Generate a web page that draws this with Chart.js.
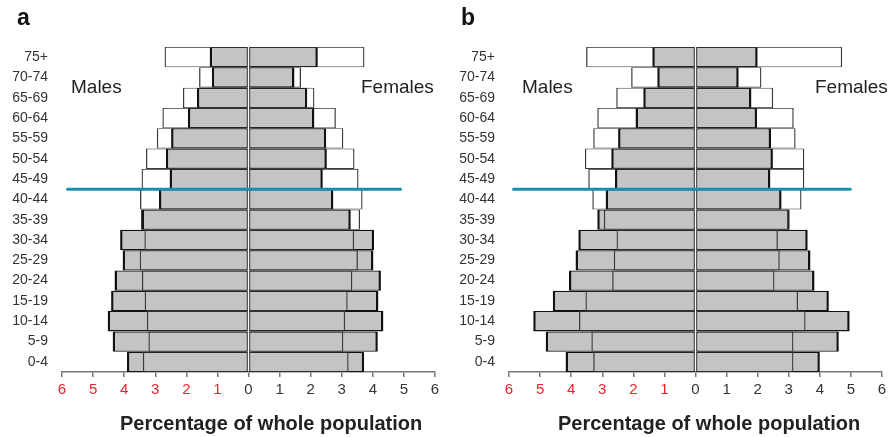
<!DOCTYPE html>
<html>
<head>
<meta charset="utf-8">
<script src="https://cdn.jsdelivr.net/npm/chart.js@4"></script>
<style>
  body { margin: 0; background: #fff; }
  #wrap { position: relative; width: 894px; height: 437px; font-family: "Liberation Sans", Arial, sans-serif; }
  canvas { position: absolute; top: 0; }
  .txt { position: absolute; line-height: 1; white-space: nowrap; color: #222; }
  .panel { font-size: 23px; font-weight: bold; color: #111; }
  .sex { font-size: 19px; }
  .axis { font-size: 20px; font-weight: bold; }
</style>
</head>
<body>
<div id="wrap">
  <canvas id="chartA" width="447" height="437" style="left:0"></canvas>
  <canvas id="chartB" width="447" height="437" style="left:447px"></canvas>

  <div class="txt panel" style="left:17px; top:6px">a</div>
  <div class="txt panel" style="left:461px; top:6px">b</div>
  <div class="txt sex" style="left:71px; top:77px">Males</div>
  <div class="txt sex" style="left:361px; top:77px">Females</div>
  <div class="txt sex" style="left:522px; top:77px">Males</div>
  <div class="txt sex" style="left:815px; top:77px">Females</div>
  <div class="txt axis" style="left:120px; top:413px">Percentage of whole population</div>
  <div class="txt axis" style="left:558px; top:413px">Percentage of whole population</div>
</div>

<script>
// --- Data (percent of whole population, top row first) ---
const ageGroups = ['75+', '70-74', '65-69', '60-64', '55-59', '50-54', '45-49', '40-44',
                   '35-39', '30-34', '25-29', '20-24', '15-19', '10-14', '5-9', '0-4'];

// panel a
const aGrayMales   = [1.25, 1.18, 1.66, 1.95, 2.49, 2.66, 2.54, 2.88, 3.44, 4.13, 4.05, 4.31, 4.42, 4.53, 4.37, 3.91];
const aOpenMales   = [2.70, 1.59, 2.11, 2.77, 2.95, 3.30, 3.44, 3.49, 3.46, 3.35, 3.50, 3.43, 3.34, 3.27, 3.22, 3.40];
const aGrayFemales = [2.23, 1.48, 1.89, 2.12, 2.50, 2.52, 2.39, 2.73, 3.29, 4.04, 4.02, 4.26, 4.18, 4.34, 4.16, 3.72];
const aOpenFemales = [3.73, 1.69, 2.12, 2.81, 3.05, 3.41, 3.54, 3.67, 3.59, 3.40, 3.52, 3.34, 3.19, 3.11, 3.05, 3.22];

// panel b
const bGrayMales   = [1.39, 1.23, 1.68, 1.93, 2.49, 2.71, 2.59, 2.89, 3.16, 3.77, 3.86, 4.07, 4.59, 5.22, 4.82, 4.18];
const bOpenMales   = [3.52, 2.07, 2.55, 3.16, 3.29, 3.56, 3.45, 3.32, 2.95, 2.54, 2.63, 2.68, 3.54, 3.75, 3.35, 3.29];
const bGrayFemales = [2.00, 1.39, 1.80, 1.98, 2.43, 2.49, 2.41, 2.77, 3.03, 3.61, 3.70, 3.83, 4.29, 4.96, 4.61, 4.00];
const bOpenFemales = [4.72, 2.12, 2.50, 3.16, 3.22, 3.50, 3.50, 3.41, 3.00, 2.65, 2.71, 2.54, 3.30, 3.54, 3.15, 3.15];

// teal marker line: drawn between these two age groups, over this x range
const markerBetween = ['45-49', '40-44'];
const markerRangeA = [-5.82, 4.89];
const markerRangeB = [-5.85, 4.98];

const xMin = -6, xMax = 6;

const FONT = '"Liberation Sans", Arial, sans-serif';

// draws the horizontal teal line across the pyramid
const markerPlugin = {
    id: 'marker',
    afterDatasetsDraw(chart, args, opts) {
        const x = chart.scales.x, y = chart.scales.y;
        const i1 = ageGroups.indexOf(markerBetween[0]);
        const i2 = ageGroups.indexOf(markerBetween[1]);
        const yPix = (y.getPixelForValue(i1) + y.getPixelForValue(i2)) / 2;
        const ctx = chart.ctx;
        ctx.save();
        ctx.strokeStyle = '#1a8db0';
        ctx.lineWidth = 3;
        ctx.lineCap = 'round';
        ctx.beginPath();
        ctx.moveTo(x.getPixelForValue(opts.range[0]), yPix);
        ctx.lineTo(x.getPixelForValue(opts.range[1]), yPix);
        ctx.stroke();
        ctx.restore();
    }
};

function pyramid(canvasId, grayM, openM, grayF, openF, range) {
    const neg = arr => arr.map(v => -v);
    const common = { barPercentage: 1, categoryPercentage: 1, borderSkipped: false, grouped: false, inflateAmount: 0 };
    const open = Object.assign({ backgroundColor: 'rgba(0,0,0,0)', borderColor: '#3a3a3a' }, common);
    const gray = Object.assign({ backgroundColor: '#c4c4c4', borderColor: '#111' }, common);

    new Chart(document.getElementById(canvasId), {
        type: 'bar',
        data: {
            labels: ageGroups,
            // open outlines first so they are drawn on top of the gray bars
            datasets: [
                Object.assign({ label: 'Males (open)', data: neg(openM),
                                borderWidth: { top: 0.8, bottom: 0.8, left: 1.3, right: 0.8 } }, open),
                Object.assign({ label: 'Females (open)', data: openF,
                                borderWidth: { top: 0.8, bottom: 0.8, left: 0.8, right: 1.3 } }, open),
                Object.assign({ label: 'Males', data: neg(grayM),
                                borderWidth: { top: 1.3, bottom: 1.3, left: 2.5, right: 1.2 } }, gray),
                Object.assign({ label: 'Females', data: grayF,
                                borderWidth: { top: 1.3, bottom: 1.3, left: 1.2, right: 2.5 } }, gray)
            ]
        },
        options: {
            indexAxis: 'y',
            responsive: false,
            animation: false,
            layout: { padding: { left: 0, right: 12, top: 47, bottom: 35 } },
            plugins: {
                legend: { display: false },
                tooltip: { enabled: false },
                marker: { range: range }
            },
            scales: {
                x: {
                    min: xMin, max: xMax,
                    afterFit: s => { s.height = 30; },
                    border: { display: true, color: '#777', width: 1.5 },
                    grid: { drawOnChartArea: false, drawTicks: true, tickLength: 5, color: '#777', lineWidth: 1.5 },
                    ticks: {
                        stepSize: 1,
                        padding: 4,
                        font: { family: FONT, size: 15 },
                        color: c => c.tick.value < 0 ? '#e8242c' : '#333',
                        callback: v => Math.abs(v)
                    }
                },
                y: {
                    afterFit: s => { s.width = 62; },
                    border: { display: false },
                    grid: { display: false, drawTicks: false },
                    ticks: { autoSkip: false, padding: 14, font: { family: FONT, size: 14 }, color: '#333' }
                }
            }
        },
        plugins: [markerPlugin]
    });
}

pyramid('chartA', aGrayMales, aOpenMales, aGrayFemales, aOpenFemales, markerRangeA);
pyramid('chartB', bGrayMales, bOpenMales, bGrayFemales, bOpenFemales, markerRangeB);
</script>
</body>
</html>
